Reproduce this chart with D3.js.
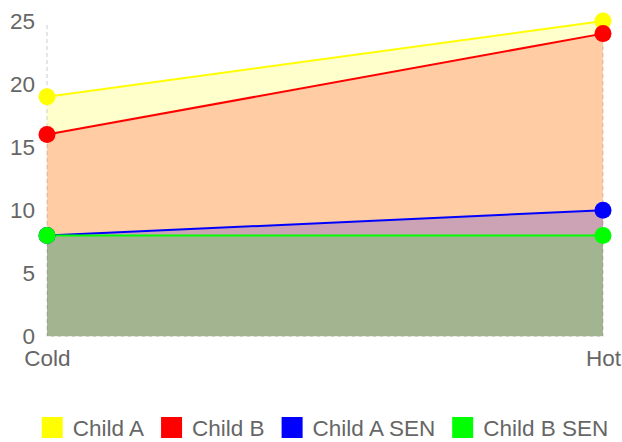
<!DOCTYPE html>
<html>
<head>
<meta charset="utf-8">
<script src="https://cdn.jsdelivr.net/npm/d3@7"></script>
<style>
  html, body { margin: 0; padding: 0; background: #fff; }
  svg { display: block; font-family: "Liberation Sans", Arial, sans-serif; }
</style>
</head>
<body>
<svg id="chart" width="622" height="442"></svg>
<script>
// Categories on the x axis
const categories = ["Cold", "Hot"];

// Series names, colours and values (one value per category)
const seriesNames = ["Child A", "Child B", "Child A SEN", "Child B SEN"];
const seriesColors = ["#ffff00", "#ff0000", "#0000ff", "#00ff00"];
const childA = [19, 25];
const childB = [16, 24];
const childASEN = [8, 10];
const childBSEN = [8, 8];

// Y axis ticks
const yTicks = [0, 5, 10, 15, 20, 25];

const seriesValues = [childA, childB, childASEN, childBSEN];
const series = seriesNames.map((name, i) => ({
  name,
  color: seriesColors[i],
  values: seriesValues[i]
}));

const svg = d3.select("#chart");
const margin = { left: 47, right: 19, top: 21, bottom: 106 };
const width = 622, height = 442;
const fontSize = "22.5px";
const textColor = "#666";

const x = d3.scalePoint()
  .domain(categories)
  .range([margin.left, width - margin.right]);

const y = d3.scaleLinear()
  .domain([0, 25])
  .range([height - margin.bottom + 0.5, margin.top]);

// Dashed grid lines at each category
const grid = svg.append("g");
categories.forEach(c => {
  grid.append("line")
    .attr("x1", x(c)).attr("x2", x(c))
    .attr("y1", y(25) + 4).attr("y2", y(0))
    .attr("stroke", "#ccc")
    .attr("stroke-width", 1)
    .attr("stroke-dasharray", "4,3");
});

// Filled areas, each from zero up to its series values
const area = d3.area()
  .x((d, i) => x(categories[i]))
  .y0(y(0))
  .y1(d => y(d));

const line = d3.line()
  .x((d, i) => x(categories[i]))
  .y(d => y(d));

const areas = svg.append("g");
series.forEach(s => {
  areas.append("path")
    .datum(s.values)
    .attr("d", area)
    .attr("fill", s.color)
    .attr("fill-opacity", 0.2);
});

// Dashed baseline drawn over the areas
svg.append("line")
  .attr("x1", x(categories[0])).attr("x2", x(categories[categories.length - 1]))
  .attr("y1", y(0)).attr("y2", y(0))
  .attr("stroke", "#eee")
  .attr("stroke-width", 1)
  .attr("stroke-dasharray", "4,3");

// Lines and points
const marks = svg.append("g");
series.forEach(s => {
  marks.append("path")
    .datum(s.values)
    .attr("d", line)
    .attr("fill", "none")
    .attr("stroke", s.color)
    .attr("stroke-width", 2);
});
series.forEach(s => {
  marks.selectAll(null)
    .data(s.values)
    .enter()
    .append("circle")
    .attr("cx", (d, i) => x(categories[i]))
    .attr("cy", d => y(d))
    .attr("r", 8.5)
    .attr("fill", s.color);
});

// Y axis labels
const yAxis = d3.axisLeft(y).tickValues(yTicks).tickSize(0).tickPadding(12);
const yg = svg.append("g")
  .attr("transform", `translate(${margin.left},0)`)
  .call(yAxis);
yg.select(".domain").remove();
yg.selectAll("text")
  .attr("fill", textColor)
  .style("font-size", fontSize)
  .style("font-family", "'Liberation Sans', Arial, sans-serif");

// X axis labels
const xAxis = d3.axisBottom(x).tickSize(0).tickPadding(14);
const xg = svg.append("g")
  .attr("transform", `translate(0,${y(0)})`)
  .call(xAxis);
xg.select(".domain").remove();
xg.selectAll("text")
  .attr("fill", textColor)
  .style("font-size", fontSize)
  .style("font-family", "'Liberation Sans', Arial, sans-serif");

// Legend, centred under the plot area
const swatch = 21, swatchGap = 10, itemGap = 17;
const legend = svg.append("g");
const items = series.map(s => {
  const g = legend.append("g");
  g.append("rect")
    .attr("width", swatch).attr("height", swatch)
    .attr("y", 417)
    .attr("fill", s.color);
  const t = g.append("text")
    .attr("x", swatch + swatchGap).attr("y", 436)
    .attr("fill", textColor)
    .style("font-size", fontSize)
    .text(s.name);
  return { g, w: swatch + swatchGap + t.node().getComputedTextLength() };
});
const totalW = d3.sum(items, d => d.w) + itemGap * (items.length - 1);
let lx = (x.range()[0] + x.range()[1]) / 2 - totalW / 2;
items.forEach(it => {
  it.g.attr("transform", `translate(${lx},0)`);
  lx += it.w + itemGap;
});
</script>
</body>
</html>
